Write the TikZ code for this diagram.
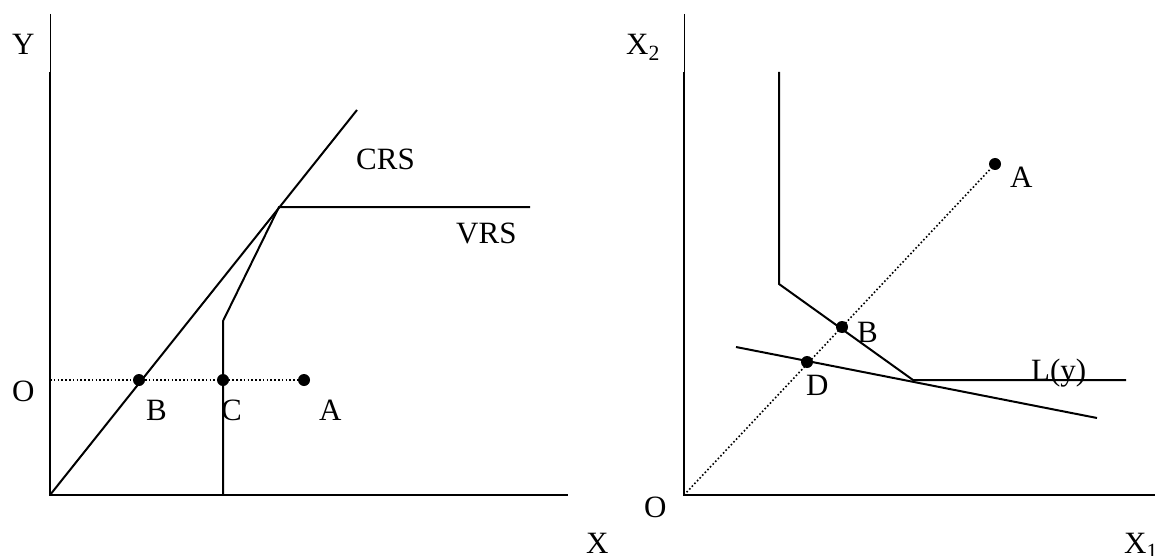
\documentclass[tikz,border=0pt]{standalone}
\usepackage{fontspec}
\setmainfont{Liberation Serif}
\begin{document}
\begin{tikzpicture}[x=1pt,y=-1pt,
  ln/.style={line width=2pt, line join=miter},
  thinax/.style={line width=0.9pt},
  dotline/.style={line width=1.6pt, dash pattern=on 1.6pt off 2.2pt},
  pt/.style={circle, fill=black, inner sep=0pt, minimum size=12pt},
  lab/.style={inner sep=0pt, anchor=base west, font=\fontsize{31}{31}\selectfont}]
\useasboundingbox (0,0) rectangle (1155,556);
% ---------- left panel ----------
\coordinate (Ltop) at (50,14);
\coordinate (Lmid) at (50,72);
\coordinate (O1) at (50,495);
\coordinate (Xend) at (568,495);
\coordinate (crsTop) at (357,110);
\coordinate (kink) at (279,207);
\coordinate (vrsEnd) at (530,207);
\coordinate (vrsBend) at (223,321);
\coordinate (vrsBot) at (223,495);
\draw[thinax] (Ltop) -- (Lmid);
\draw[ln] (Lmid) -- (O1) -- (Xend);
\draw[ln] (O1) -- (crsTop);
\draw[ln] (vrsBot) -- (vrsBend) -- (kink) -- (vrsEnd);
\node[pt] (pB) at (139,380) {};
\node[pt] (pC) at (223,380) {};
\node[pt] (pA) at (304,380) {};
\draw[dotline] (O1 |- pA) -- (pA);
\node[lab] (tY) at (12,55) {Y};
\node[lab] (tO1) at (12,401) {O};
\node[lab] (tB) at (146,420) {B};
\node[lab] (tC) at (221,420) {C};
\node[lab] (tA) at (319,420) {A};
\node[lab] (tCRS) at (356,170) {CRS};
\node[lab] (tVRS) at (456,243) {VRS};
\node[lab] (tX) at (586,553) {X};
% ---------- right panel ----------
\coordinate (Rtop) at (684,14);
\coordinate (Rmid) at (684,72);
\coordinate (O2) at (684,495);
\coordinate (X1end) at (1155,495);
\coordinate (isoTop) at (779,72);
\coordinate (isoBend) at (779,284);
\coordinate (isoKink) at (913,380);
\coordinate (isoEnd) at (1126,380);
\coordinate (lS) at (736,347);
\coordinate (lE) at (1097,418);
\draw[thinax] (Rtop) -- (Rmid);
\draw[ln] (Rmid) -- (O2) -- (X1end);
\draw[ln] (isoTop) -- (isoBend) -- (isoKink) -- (isoEnd);
\draw[ln] (lS) -- (lE);
\node[pt] (qA) at (995,164) {};
\node[pt] (qB) at (842,327) {};
\node[pt] (qD) at (807,362) {};
\draw[dotline] (O2) -- (qA);
\node[lab] (tX2) at (626,55) {X\textsubscript{2}};
\node[lab] (tO2) at (644,517) {O};
\node[lab] (tA2) at (1010,187) {A};
\node[lab] (tB2) at (857,342) {B};
\node[lab] (tD2) at (806,395) {D};
\node[lab] (tL) at (1031,380) {L(y)};
\node[lab] (tX1) at (1124,553) {X\textsubscript{1}};
\end{tikzpicture}
\end{document}
